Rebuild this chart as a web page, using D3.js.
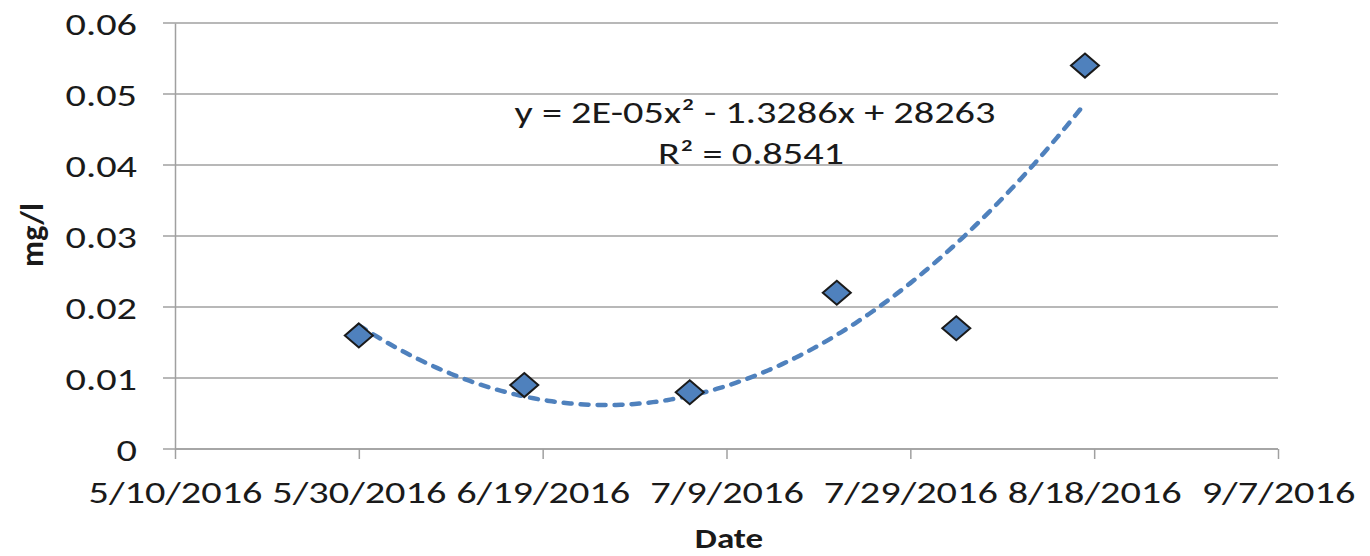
<!DOCTYPE html>
<html>
<head>
<meta charset="utf-8">
<script src="https://cdn.jsdelivr.net/npm/d3@7"></script>
<style>
  body { margin: 0; background: #fff; }
  text { font-family: Carlito, Lato, "Open Sans", sans-serif; fill: #1a1a1a; }
</style>
</head>
<body>
<svg id="chart" width="1370" height="556"></svg>
<script>
// Data
const sampleDates = ["2016-05-30", "2016-06-17", "2016-07-05", "2016-07-21", "2016-08-03", "2016-08-17"];
const concentrations = [0.016, 0.009, 0.008, 0.022, 0.017, 0.054];
const dateTicks = ["2016-05-10", "2016-05-30", "2016-06-19", "2016-07-09", "2016-07-29", "2016-08-18", "2016-09-07"];
const yTicks = [0, 0.01, 0.02, 0.03, 0.04, 0.05, 0.06];
const equationLines = ["y = 2E-05x\u00B2 - 1.3286x + 28263", "R\u00B2 = 0.8541"];

// Layout
const margin = { top: 23, left: 175, right: 92, bottom: 107 };
const width = 1370, height = 556;
const sx = 1.3; // the reference text is stretched sideways
const blue = "#4F81BD";
const grid = "#a0a0a0";

const parse = d3.utcParse("%Y-%m-%d");
const fmt = d3.utcFormat("%-m/%-d/%Y");
const points = sampleDates.map((d, i) => ({ date: parse(d), value: concentrations[i] }));
const tickDates = dateTicks.map(parse);

const svg = d3.select("#chart");

const x = d3.scaleUtc()
	.domain(d3.extent(tickDates))
	.range([margin.left, width - margin.right]);
const y = d3.scaleLinear()
	.domain([0, 0.06])
	.range([height - margin.bottom, margin.top]);

// Horizontal gridlines (with tick stubs left of the axis)
svg.append("g")
	.selectAll("line")
	.data(yTicks)
	.enter()
	.append("line")
	.attr("x1", margin.left - 12)
	.attr("x2", width - margin.right)
	.attr("y1", (d) => y(d))
	.attr("y2", (d) => y(d))
	.attr("stroke", grid)
	.attr("stroke-width", 1.5);

// Y axis
const yAxis = svg.append("g")
	.attr("transform", `translate(${margin.left},0)`)
	.call(d3.axisLeft(y).tickValues(yTicks).tickSize(0).tickFormat((d) => d3.format("")(+d.toFixed(2))));
yAxis.select(".domain").attr("stroke", grid).attr("stroke-width", 1.5);
yAxis.selectAll("text")
	.attr("x", -38 / sx)
	.attr("dy", "0.36em")
	.attr("transform", `scale(${sx},1)`)
	.style("font-size", "31px")
	.style("font-family", null);

// X axis
const xAxis = svg.append("g")
	.attr("transform", `translate(0,${y(0)})`)
	.call(d3.axisBottom(x).tickValues(tickDates).tickSize(10).tickFormat(fmt));
xAxis.select(".domain").attr("d", `M${margin.left},0H${width - margin.right}`).attr("stroke", grid).attr("stroke-width", 1.5);
xAxis.selectAll(".tick line").attr("stroke", grid).attr("stroke-width", 1.5);
xAxis.selectAll("text")
	.attr("y", 54)
	.attr("dy", 0)
	.attr("transform", `scale(${sx},1)`)
	.style("font-size", "31px")
	.style("font-family", null);

// Polynomial (order 2) trendline via least squares on the points
const t0 = points[0].date;
const xs = points.map((p) => (p.date - t0) / 864e5);
const ys = points.map((p) => p.value);
function fitQuadratic(xv, yv) {
	const S = (k) => d3.sum(xv, (v) => Math.pow(v, k));
	const T = (k) => d3.sum(xv, (v, i) => Math.pow(v, k) * yv[i]);
	const A = [[S(0), S(1), S(2)], [S(1), S(2), S(3)], [S(2), S(3), S(4)]];
	const b = [T(0), T(1), T(2)];
	// Gaussian elimination
	for (let i = 0; i < 3; i++) {
		for (let j = i + 1; j < 3; j++) {
			const f = A[j][i] / A[i][i];
			for (let k = i; k < 3; k++) A[j][k] -= f * A[i][k];
			b[j] -= f * b[i];
		}
	}
	const c = [0, 0, 0];
	for (let i = 2; i >= 0; i--) {
		let s = b[i];
		for (let k = i + 1; k < 3; k++) s -= A[i][k] * c[k];
		c[i] = s / A[i][i];
	}
	return c;
}
const coef = fitQuadratic(xs, ys);
const trend = d3.range(xs[0], xs[xs.length - 1] + 0.01, 0.5).map((d) => ({
	date: new Date(+t0 + d * 864e5),
	value: coef[0] + coef[1] * d + coef[2] * d * d
}));

svg.append("path")
	.datum(trend)
	.attr("fill", "none")
	.attr("stroke", blue)
	.attr("stroke-width", 4.5)
	.attr("stroke-linecap", "round")
	.attr("stroke-dasharray", "8,9")
	.attr("d", d3.line().x((d) => x(d.date)).y((d) => y(d.value)));

// Diamond markers
const hw = 14, hh = 12;
svg.append("g")
	.selectAll("path")
	.data(points)
	.enter()
	.append("path")
	.attr("transform", (d) => `translate(${x(d.date)},${y(d.value)})`)
	.attr("d", `M0,${-hh}L${hw},0L0,${hh}L${-hw},0Z`)
	.attr("fill", blue)
	.attr("stroke", "#1a1a1a")
	.attr("stroke-width", 2)
	.attr("stroke-linejoin", "miter");

// Trendline equation label
svg.append("g")
	.selectAll("text")
	.data(equationLines)
	.enter()
	.append("text")
	.attr("transform", (d, i) => `translate(${i ? 751 : 755},${i ? 164 : 123}) scale(${sx},1)`)
	.attr("text-anchor", "middle")
	.style("font-size", "31px")
	.text((d) => d);

// Axis titles
svg.append("text")
	.attr("transform", `translate(729,548) scale(1.25,1)`)
	.attr("text-anchor", "middle")
	.style("font-size", "28px")
	.style("font-weight", "bold")
	.text("Date");

svg.append("text")
	.attr("transform", "translate(43,235) rotate(-90)")
	.attr("text-anchor", "middle")
	.style("font-size", "32px")
	.style("font-weight", "bold")
	.text("mg/l");
</script>
</body>
</html>
